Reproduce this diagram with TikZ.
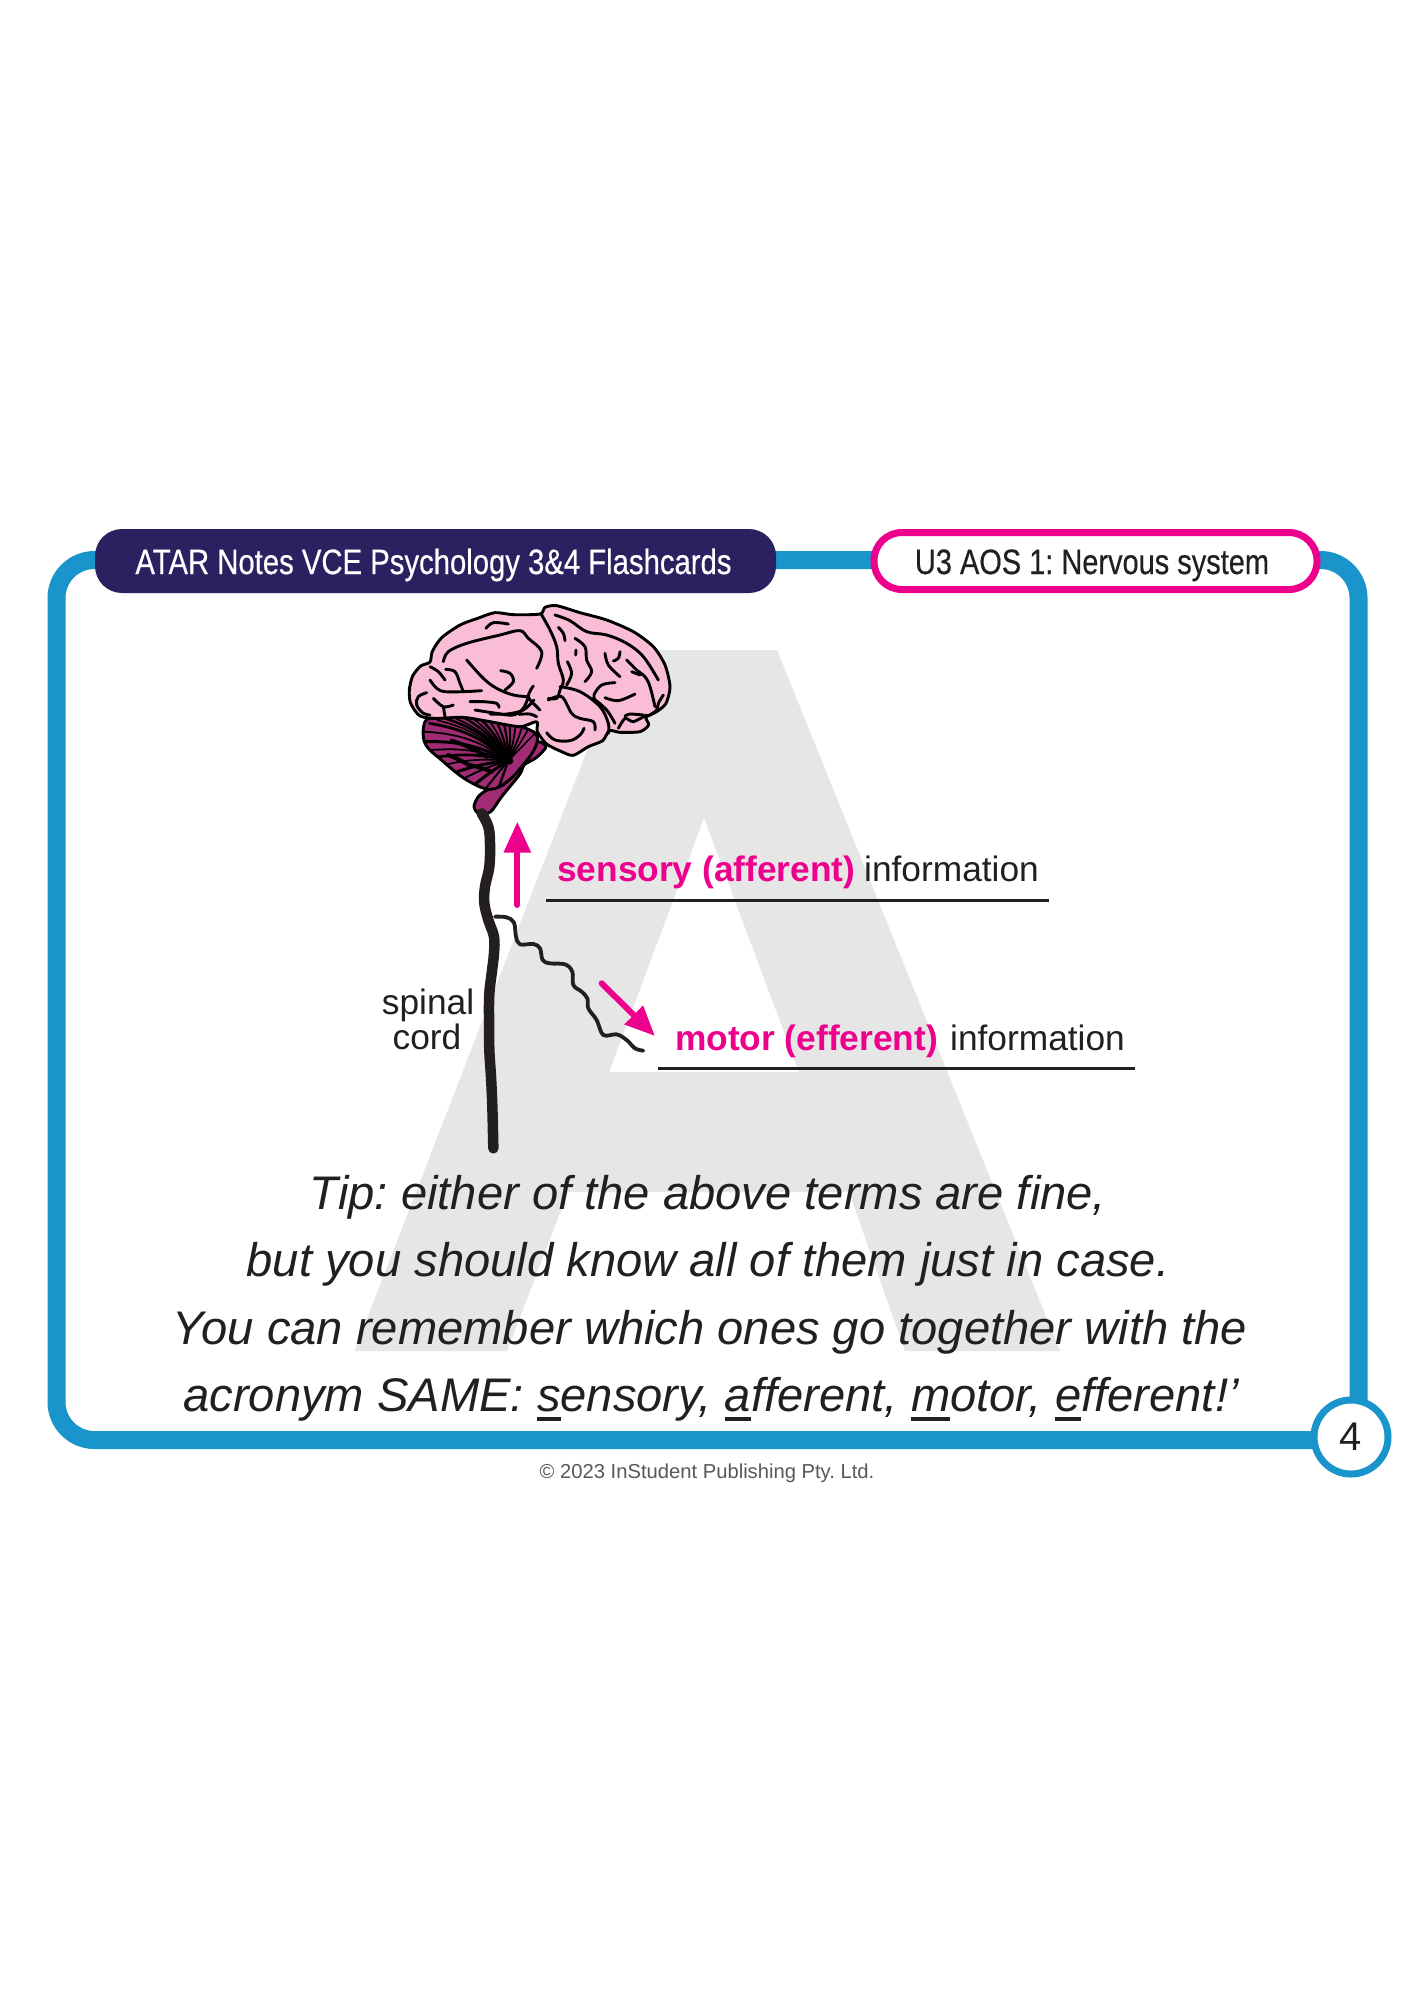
\documentclass[tikz,border=0pt]{standalone}
\usepackage{fontspec}
\usepackage{graphicx}
\setmainfont{Liberation Sans}
\newfontfamily\headfont[FakeBold=0.45]{Liberation Sans}
\usetikzlibrary{arrows.meta,calc}
\definecolor{cardblue}{HTML}{1995CB}
\definecolor{navy}{HTML}{2B2160}
\definecolor{hotpink}{HTML}{EC008C}
\definecolor{ink}{HTML}{231F20}
\definecolor{ghost}{HTML}{E6E6E7}
\definecolor{brainpink}{HTML}{F9BDD6}
\definecolor{brainplum}{HTML}{A22C73}
\newcommand{\ulc}[1]{\setbox0=\hbox{#1}\rlap{\rule[-9.5pt]{\wd0}{4pt}}\box0\relax}
\newcommand{\txt}[1]{\fontsize{#1}{#1}\selectfont\frenchspacing}
\tikzset{
  base text/.style={anchor=base,inner sep=0pt,text=ink},
  tip text/.style={base text,font=\txt{47.15}\itshape},
  label text/.style={base text,font=\txt{35.3}},
  rule line/.style={draw=ink,line width=3pt},
  pink arrow/.style={draw=hotpink,line width=6pt,line cap=round},
  cord/.style={draw=ink,line width=10.5pt,line cap=round,line join=round},
  nerve/.style={draw=ink,line width=3.8pt,line cap=round,line join=round},
  sulcus/.style={draw=black,line width=2.9pt,line cap=round,line join=round},
  brain outline/.style={draw=black,line width=2.9pt,line join=round},
  z1/.style={xshift=380pt,yshift=-590pt,x=0.33333pt,y=-0.33333pt},
  z2/.style={xshift=360pt,yshift=-790pt,x=0.33333pt,y=-0.33333pt},
  z9/.style={xshift=400pt,yshift=-600pt,x=0.33333pt,y=-0.33333pt},
  z10/.style={xshift=530pt,yshift=-600pt,x=0.33333pt,y=-0.33333pt},
}
\begin{document}
\begin{tikzpicture}[x=1pt,y=-1pt]
\useasboundingbox[fill=white] (0,0) rectangle (1414,2000);
% ghost letter A
\fill[ghost,even odd rule] (626,650) -- (777,650) -- (1060,1351) -- (905,1351) -- (849,1192) -- (568,1192) -- (507,1351) -- (354.5,1351) -- cycle
  (609,1072) -- (799,1072) -- (704,818) -- cycle;
% card frame
\draw[cardblue,line width=18pt,rounded corners=38pt] (56.5,560) rectangle (1358.5,1440);
% header pills
\fill[navy,rounded corners=27pt] (95,529) rectangle (776,593);
\filldraw[fill=white,draw=hotpink,line width=7pt,rounded corners=28pt] (874,532.5) rectangle (1317,589.5);
\node[base text,text=white] (htitle) at (433.5,574) {\scalebox{0.915}[1.1]{\headfont\txt{32}ATAR Notes VCE Psychology 3\&4 Flashcards}};
\node[base text] (hunit) at (1092,574) {\scalebox{0.905}[1.1]{\headfont\txt{32}U3 AOS 1: Nervous system}};
% page number
\node[circle,draw=cardblue,fill=white,line width=7pt,minimum size=74pt,inner sep=0pt,text=ink,font=\txt{40}] (pageno) at (1351,1437) {4};
% brain stem and cerebellum
\begin{scope}[z1]
\filldraw[fill=brainplum,brain outline] plot[smooth cycle,tension=0.5] coordinates {(498,470) (470,502) (432,525) (420,552) (365,620) (332,665) (298,672) (282,650) (295,620) (322,600) (370,585) (410,540) (445,490) (470,455)};
\path[save path=\cerebpath] plot[smooth cycle,tension=0.6] coordinates {(135,395) (135,460) (190,515) (260,570) (330,598) (385,572) (425,530) (462,480) (472,440) (450,420) (400,405) (330,392) (250,382) (170,385)};
\filldraw[fill=brainplum,brain outline,use path=\cerebpath];
\begin{scope}
\clip[use path=\cerebpath];
\foreach \tx/\ty/\bb/\wd in {
  470/425/0/1.6,450/408/3/1.6,430/400/4/1.8,408/396/5/1.8,388/392/6/2,368/388/7/2.2,
  345/385/8/2.2,322/383/9/1.6,296/381/11/2.6,272/380/12/1.6,247/380/14/2.4,222/383/15/1.6,
  198/386/16/2.6,172/391/16/1.6,148/400/16/2.8,130/425/16/1.8,
  134/455/14/3,155/480/12/1.8,178/500/10/2.8,204/522/8/1.8,232/545/6/3,
  258/562/5/2,288/580/3/3,320/592/1/2,355/595/0/2.4} {
  \draw[black,line width=\wd pt,line cap=round] (385,512) to[bend right=\bb] (\tx,\ty);
}
\foreach \sx/\sy/\tx/\ty/\bb/\wd in {
  320/500/215/452/7/4,275/530/205/495/4/4,335/545/270/525/3/4} {
  \draw[black,line width=\wd pt,line cap=round] (\sx,\sy) to[bend right=\bb] (\tx,\ty);
}
\fill[black] (388,512) circle (12);
\end{scope}
\end{scope}
% cerebrum
\begin{scope}[z1]
\filldraw[fill=brainpink,brain outline] plot[smooth cycle,tension=0.45] coordinates {(88,300) (98,258) (122,228) (150,216) (157,184) (185,143) (240,105) (290,86) (345,68) (400,74) (480,72) (495,52) (530,47) (600,68) (680,90) (760,125) (820,170) (855,225) (870,290) (858,340) (830,365) (798,382) (806,405) (780,425) (720,427) (688,422) (668,452) (625,470) (580,496) (545,485) (500,462) (472,425) (470,395) (420,410) (330,395) (250,382) (170,385) (120,378) (92,340)};
\draw[sulcus] plot[smooth,tension=0.6] coordinates {(330,372) (380,372) (430,360) (462,330)};
\draw[sulcus] plot[smooth,tension=0.6] coordinates {(418,373) (450,372) (470,380)};
\draw[sulcus] plot[smooth,tension=0.6] coordinates {(505,330) (545,320) (575,370) (600,385) (640,395) (645,420)};
\draw[sulcus] plot[smooth,tension=0.6] coordinates {(500,428) (525,450) (570,452) (600,435) (612,415)};
\draw[sulcus] plot[smooth,tension=0.6] coordinates {(540,290) (600,305) (660,350) (685,400) (685,430)};
\draw[sulcus] plot[smooth,tension=0.6] coordinates {(640,325) (680,360) (705,400)};
\draw[sulcus] plot[smooth,tension=0.4] coordinates {(715,415) (735,385) (760,395) (800,375)};
\draw[sulcus] plot[smooth,tension=0.4] coordinates {(735,378) (750,372) (790,375)};
\end{scope}
\begin{scope}[z9]
\foreach \pts in {
  {(90,200) (115,215) (135,240)},
  {(137,208) (165,215) (180,250) (190,275)},
  {(90,240) (110,265) (135,275) (190,275) (245,272)},
  {(80,278) (55,290) (50,315) (70,340) (90,345)},
  {(100,295) (130,320) (160,315)},
  {(130,320) (135,350)},
  {(210,305) (250,305) (290,310) (297,322)},
  {(225,330) (290,340) (340,345) (370,325) (385,290)},
  {(400,258) (385,290) (410,320) (420,330)},
  {(258,85) (280,68) (325,72)},
  {(130,185) (145,155) (200,130) (300,105) (360,92) (385,115) (425,155) (410,205)},
  {(200,180) (250,235) (290,265) (340,285) (385,290)},
  {(302,212) (330,220) (340,245) (315,270)}} {
  \draw[sulcus] plot[smooth,tension=0.6] coordinates \pts;
}
\end{scope}
\begin{scope}[z10]
\foreach \pts in {
  {(35,45) (60,90) (80,140) (85,190) (100,240) (90,270) (80,295) (55,295)},
  {(75,45) (120,62) (170,95) (230,105) (290,130) (340,170) (385,240)},
  {(85,82) (100,100) (105,122)},
  {(135,115) (165,140) (170,180) (185,215) (165,245)},
  {(138,150) (137,165)},
  {(112,185) (125,220) (110,255)},
  {(225,160) (235,195) (270,230)},
  {(270,155) (265,175) (250,183)},
  {(290,180) (320,210) (345,230) (360,260) (375,320)},
  {(305,215) (330,225)},
  {(255,248) (215,255) (192,285) (195,305)},
  {(225,293) (265,302) (315,282)},
  {(400,285) (385,310) (380,330) (360,345)}} {
  \draw[sulcus] plot[smooth,tension=0.6] coordinates \pts;
}
\end{scope}
% spinal cord, nerve, arrows
\begin{scope}[z2]
\draw[cord] plot[smooth,tension=0.6] coordinates {(365,70) (385,110) (390,160) (388,230) (375,290) (373,340) (385,390) (402,440) (402,490) (395,550) (388,610) (387,680) (388,780) (393,860) (397,950) (400,1075)};
\draw[nerve] plot[smooth,tension=0.6] coordinates {(405,380) (440,382) (462,398) (468,440) (480,463) (520,462) (540,475) (548,510) (570,520) (615,523) (637,545) (640,585) (665,605) (682,625) (685,655) (710,690) (730,735) (770,733) (800,750) (825,775) (850,782)};
\coordinate (upS) at (472,345);
\coordinate (upE) at (472,95);
\coordinate (dnS) at (725,580);
\coordinate (dnE) at (885,738);
\draw[pink arrow,-{Triangle[length=31pt,width=26pt]}] (upS) -- (upE);
\draw[pink arrow,-{Triangle[length=30pt,width=25pt]}] (dnS) -- (dnE);
\end{scope}
% labels
\node[label text] (spinal) at (428,1014) {spinal};
\node[label text] (cordt) at (427,1049) {cord};
\node[label text,anchor=base west,text=hotpink,font=\txt{35.3}\bfseries] (sens) at (557,881) {sensory (afferent)};
\node[label text,anchor=base west] (sensi) at (864,881) {information};
\node[label text,anchor=base west,text=hotpink,font=\txt{35.3}\bfseries] (mot) at (675,1050) {motor (efferent)};
\node[label text,anchor=base west] (moti) at (950,1050) {information};
\coordinate (s1) at (546,900); \coordinate (s2) at (1049,900);
\coordinate (m1) at (657.5,1068); \coordinate (m2) at (1134.5,1068);
\draw[rule line] (s1) -- (s2);
\draw[rule line] (m1) -- (m2);
% tip
\node[tip text] (tip1) at (708,1209) {Tip: either of the above terms are fine,};
\node[tip text] (tip2) at (708,1276.5) {but you should know all of them just in case.};
\node[tip text] (tip3) at (710,1344) {You can remember which ones go together with the};
\node[tip text] (tip4) at (711,1411) {acronym SAME: \ulc{s}ensory, \ulc{a}fferent, \ulc{m}otor, \ulc{e}fferent!’};
\node[base text,text=ink!75,font=\txt{20.2}] (copy) at (707,1478) {© 2023 InStudent Publishing Pty. Ltd.};
\end{tikzpicture}
\end{document}
